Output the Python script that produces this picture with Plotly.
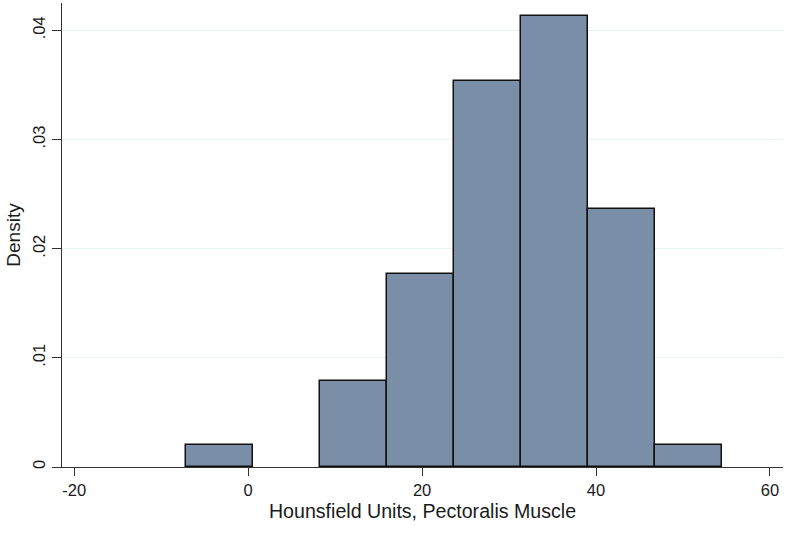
import plotly.graph_objects as go

# Histogram bins (Hounsfield units) and densities
bin_start = -7.2
bin_width = 7.71
bin_lefts = [bin_start + i * bin_width for i in range(8)]
densities = [0.00197, 0.0, 0.00787, 0.0177, 0.0354, 0.0413, 0.0236, 0.00197]

x_ticks = [-20, 0, 20, 40, 60]
x_tick_labels = ["-20", "0", "20", "40", "60"]
y_ticks = [0, 0.01, 0.02, 0.03, 0.04]
y_tick_labels = ["0", ".01", ".02", ".03", ".04"]

centers = [l + bin_width / 2 for l in bin_lefts]
keep = [i for i, d in enumerate(densities) if d > 0]

fig = go.Figure()
fig.add_trace(go.Bar(
    x=[centers[i] for i in keep],
    y=[densities[i] for i in keep],
    width=[bin_width] * len(keep),
    marker=dict(color="#7A8FA7", line=dict(color="#111111", width=1.5)),
    hoverinfo="x+y",
))

font_family = "Liberation Sans, Arial, sans-serif"
fig.update_layout(
    width=800, height=542,
    margin=dict(l=62, r=17, t=3, b=75),
    paper_bgcolor="white", plot_bgcolor="white",
    showlegend=False,
    bargap=0,
    font=dict(family=font_family, color="#1a1a1a"),
    xaxis=dict(
        range=[-21.4, 61.5],
        tickvals=x_ticks, ticktext=x_tick_labels,
        ticks="outside", ticklen=8, tickwidth=1.3, tickcolor="#333333",
        showline=True, linecolor="#333333", linewidth=1.3,
        showgrid=False, zeroline=False,
        tickfont=dict(size=16.5),
        title=dict(text="Hounsfield Units, Pectoralis Muscle",
                   font=dict(size=19.6), standoff=6),
    ),
    yaxis=dict(
        range=[0, 0.0425],
        tickvals=y_ticks, ticktext=y_tick_labels,
        tickangle=-90,
        ticks="outside", ticklen=9, tickwidth=1.3, tickcolor="#333333",
        showline=True, linecolor="#333333", linewidth=1.3,
        showgrid=True, gridcolor="#EAF1F2", gridwidth=1,
        zeroline=False,
        tickfont=dict(size=16.5),
        title=dict(text="Density", font=dict(size=19), standoff=4),
    ),
)

fig.write_html("out.html")
